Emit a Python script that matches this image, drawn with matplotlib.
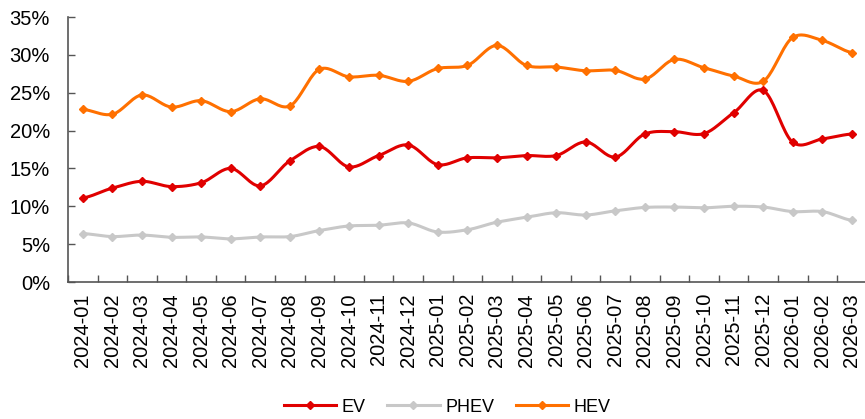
import numpy as np
import matplotlib.pyplot as plt
from matplotlib.ticker import PercentFormatter

plt.rcParams['font.family'] = ['Liberation Sans', 'DejaVu Sans']

months = ['2024-01', '2024-02', '2024-03', '2024-04', '2024-05', '2024-06', '2024-07',
          '2024-08', '2024-09', '2024-10', '2024-11', '2024-12', '2025-01', '2025-02',
          '2025-03', '2025-04', '2025-05', '2025-06', '2025-07', '2025-08', '2025-09',
          '2025-10', '2025-11', '2025-12', '2026-01', '2026-02', '2026-03']
ev = [11.1, 12.4, 13.3, 12.6, 13.1, 15.0, 12.7, 16.0, 17.9, 15.2, 16.7, 18.1, 15.5, 16.4,
      16.4, 16.7, 16.7, 18.5, 16.5, 19.55, 19.85, 19.6, 22.35, 25.3, 18.45, 18.9, 19.55]
phev = [6.4, 6.0, 6.2, 5.9, 5.95, 5.7, 5.95, 6.0, 6.8, 7.4, 7.5, 7.8, 6.6, 6.9,
        7.9, 8.55, 9.15, 8.85, 9.4, 9.85, 9.9, 9.8, 10.0, 9.9, 9.3, 9.3, 8.15]
hev = [22.8, 22.15, 24.7, 23.1, 23.95, 22.5, 24.2, 23.25, 28.1, 27.1, 27.3, 26.5, 28.2, 28.6,
       31.25, 28.6, 28.4, 27.9, 27.95, 26.8, 29.4, 28.3, 27.2, 26.5, 32.3, 31.9, 30.3]


def smooth(y, n=20):
    # Catmull-Rom style smoothing like Excel's "smoothed line"
    y = np.asarray(y, float)
    x = np.arange(len(y), dtype=float)
    p = np.concatenate([[y[0]], y, [y[-1]]])
    xs, ys = [], []
    t = np.linspace(0, 1, n, endpoint=False)
    for i in range(len(y) - 1):
        p0, p1, p2, p3 = p[i], p[i + 1], p[i + 2], p[i + 3]
        m1 = (p2 - p0) / 2 * 0.9
        m2 = (p3 - p1) / 2 * 0.9
        h00 = 2 * t**3 - 3 * t**2 + 1
        h10 = t**3 - 2 * t**2 + t
        h01 = -2 * t**3 + 3 * t**2
        h11 = t**3 - t**2
        ys.append(h00 * p1 + h10 * m1 + h01 * p2 + h11 * m2)
        xs.append(x[i] + t)
    xs.append([x[-1]])
    ys.append([y[-1]])
    return np.concatenate(xs), np.concatenate(ys)


fig = plt.figure(figsize=(8.65, 4.19), dpi=100)
ax = fig.add_axes([68 / 865, 1 - 282 / 419, 1 - 68 / 865 + 0.002, (282 - 17) / 419])

series = [('EV', ev, '#E00000'), ('PHEV', phev, '#C8C8C8'), ('HEV', hev, '#FF7000')]
x = np.arange(len(months))
for name, vals, col in series:
    sx, sy = smooth(vals)
    ax.plot(sx, sy, color=col, lw=2.2, zorder=3)
    ax.plot(x, vals, linestyle='none', marker='D', ms=4.5, color=col, zorder=4)
    ax.plot([], [], color=col, lw=2.2, marker='D', ms=4.5, label=name)

ax.set_ylim(0, 35)
ax.set_yticks(range(0, 36, 5))
ax.yaxis.set_major_formatter(PercentFormatter(decimals=0))
ax.set_xlim(-0.5, len(months) - 0.5)
ax.set_xticks(x)
ax.set_xticklabels(months, rotation=90)
ax.set_xticks(np.arange(-0.5, len(months), 1), minor=True)
ax.tick_params(axis='x', which='major', length=0, pad=8, labelsize=14.5)
ax.tick_params(axis='x', which='minor', direction='in', length=5, width=1, color='#555555')
ax.tick_params(axis='y', direction='in', length=5, width=1, color='#555555', labelsize=14.5, pad=13)

for s in ['top', 'right']:
    ax.spines[s].set_visible(False)
for s in ['left', 'bottom']:
    ax.spines[s].set_color('#555555')
    ax.spines[s].set_linewidth(1.2)

fig.legend(loc='center', bbox_to_anchor=(0.517, 12 / 419), ncol=3, frameon=False,
           fontsize=13, handlelength=2.9, columnspacing=1.2, handletextpad=0.3)

fig.savefig('out.png', dpi=100)
